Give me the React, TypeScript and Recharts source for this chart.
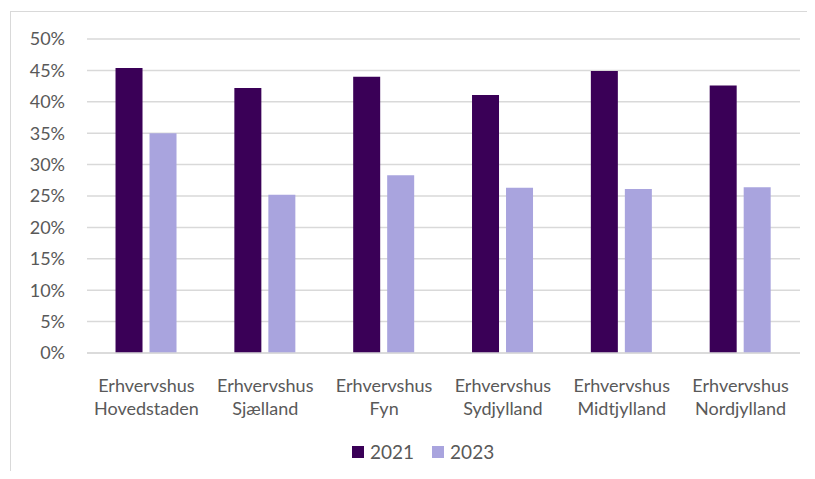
import React from "react";
import { Bar, BarChart, CartesianGrid, XAxis, YAxis } from "recharts";

// values, in percent
const regions = ["Hovedstaden", "Sjælland", "Fyn", "Sydjylland", "Midtjylland", "Nordjylland"];
const values2021 = [45.4, 42.2, 44.0, 41.1, 44.9, 42.6];
const values2023 = [35.0, 25.2, 28.3, 26.3, 26.1, 26.4];
const yTicks = [0, 5, 10, 15, 20, 25, 30, 35, 40, 45, 50];
const series = [
	{ key: "2021", color: "#3a0057" },
	{ key: "2023", color: "#a9a4de" },
];

const data = regions.map((region, i) => ({
	name: region,
	"2021": values2021[i],
	"2023": values2023[i],
}));

const FONT = "Lato, 'Liberation Sans', sans-serif";

const RegionTick = ({ x, y, payload }: any) => (
	<text x={x} y={y} textAnchor="middle" fill="#595959" fontSize={18} fontFamily={FONT}>
		<tspan x={x} dy={31}>Erhvervshus</tspan>
		<tspan x={x} dy={23}>{payload.value}</tspan>
	</text>
);

const App = () => {
	return (
		<div style={{ position: "relative", width: 815, height: 479, margin: -8, overflow: "hidden", background: "#fff" }}>
			<div
				style={{
					position: "absolute",
					left: 10,
					top: 11,
					width: 840,
					height: 500,
					border: "1px solid #d9d9d9",
					boxSizing: "border-box",
				}}
			/>
			<div style={{ position: "absolute", left: 0, top: 0 }}>
				<BarChart
					width={815}
					height={479}
					data={data}
					margin={{ top: 39, right: 15, bottom: 0, left: 0 }}
					barCategoryGap="24%"
					barGap={7}>
					<CartesianGrid vertical={false} stroke="#d9d9d9" strokeWidth={1.5} />
					<XAxis
						dataKey="name"
						tick={<RegionTick />}
						tickLine={false}
						axisLine={{ stroke: "#d9d9d9", strokeWidth: 1.5 }}
						interval={0}
						height={126}
					/>
					<YAxis
						width={87}
						domain={[0, 50]}
						ticks={yTicks}
						tickFormatter={(v: number) => `${v}%`}
						axisLine={false}
						tickLine={false}
						tickSize={0}
						tickMargin={22}
						tick={{ fill: "#595959", fontSize: 18, fontFamily: FONT }}
					/>
					{series.map((s) => (
						<Bar key={s.key} dataKey={s.key} fill={s.color} isAnimationActive={false} />
					))}
				</BarChart>
			</div>
			<div
				style={{
					position: "absolute",
					top: 440,
					left: 352,
					display: "flex",
					alignItems: "center",
					fontFamily: FONT,
					fontSize: 19,
					color: "#595959",
				}}>
				{series.map((s) => (
					<div key={s.key} style={{ display: "flex", alignItems: "center", marginRight: 18 }}>
						<span style={{ width: 12, height: 12, background: s.color, marginRight: 6 }} />
						<span>{s.key}</span>
					</div>
				))}
			</div>
		</div>
	);
};

export default App;
